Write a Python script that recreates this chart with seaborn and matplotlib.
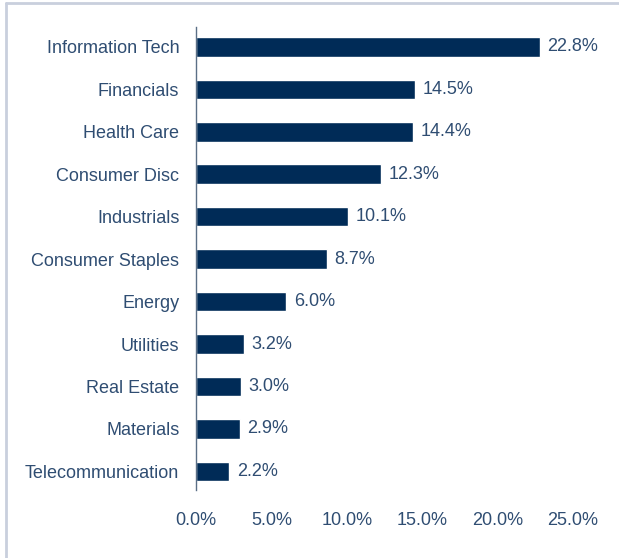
import matplotlib
matplotlib.use("Agg")
import matplotlib.pyplot as plt
import seaborn as sns
from matplotlib.lines import Line2D

# sector weights
sectors = ["Information Tech", "Financials", "Health Care", "Consumer Disc",
           "Industrials", "Consumer Staples", "Energy", "Utilities",
           "Real Estate", "Materials", "Telecommunication"]
weights = [22.8, 14.5, 14.4, 12.3, 10.1, 8.7, 6.0, 3.2, 3.0, 2.9, 2.2]
xticks = [0, 5, 10, 15, 20, 25]

bar_color = "#002b57"
text_color = "#2f4d72"

sns.set_style("white")
plt.rcParams["font.family"] = ["Liberation Sans", "DejaVu Sans"]

fig = plt.figure(figsize=(6.19, 5.58), dpi=100)
ax = fig.add_axes([196 / 619, 1 - 490 / 558, (573 - 196) / 619, (490 - 27) / 558])

sns.barplot(x=weights, y=sectors, color=bar_color, width=0.46, ax=ax,
            saturation=1, orient="h")

ax.set_xlim(0, 25)
ax.set_ylim(10.44, -0.47)
ax.set_xticks(xticks)
ax.set_xticklabels([f"{t:.1f}%" for t in xticks])
ax.tick_params(axis="both", length=0, labelsize=13, colors=text_color)
ax.tick_params(axis="x", pad=16)
ax.tick_params(axis="y", pad=12)
ax.set_xlabel("")
ax.set_ylabel("")

for s in ["top", "right", "bottom"]:
    ax.spines[s].set_visible(False)
ax.spines["left"].set_color("#5b6f86")
ax.spines["left"].set_linewidth(1.0)

for i, v in enumerate(weights):
    ax.text(v + 0.5, i, f"{v:.1f}%", va="center", ha="left",
            fontsize=13, color=text_color)

# frame lines at top and left of the figure
fig.add_artist(Line2D([6 / 619, 1], [1 - 3 / 558, 1 - 3 / 558],
                      transform=fig.transFigure, color="#c9cfdd", lw=2))
fig.add_artist(Line2D([6 / 619, 6 / 619], [0, 1 - 3 / 558],
                      transform=fig.transFigure, color="#c9cfdd", lw=2))

fig.savefig("out.png", dpi=100)
